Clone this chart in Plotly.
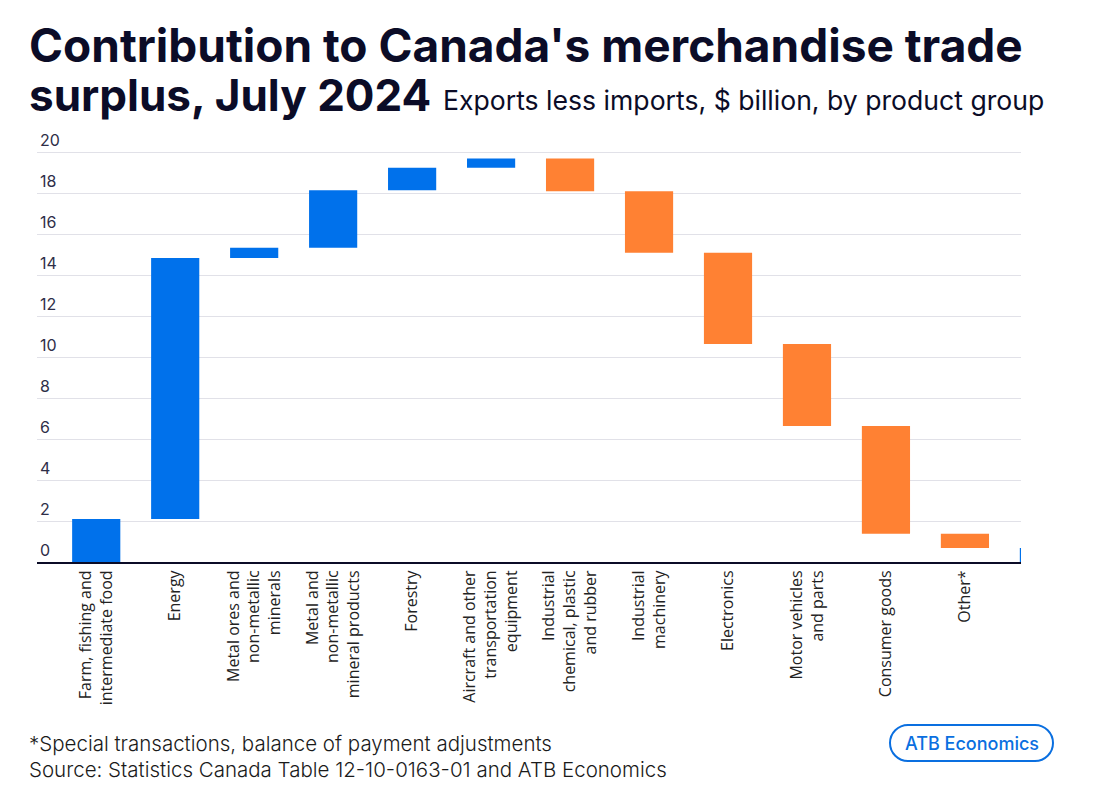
import plotly.graph_objects as go

categories = [
    "Farm, fishing and<br>intermediate food",
    "Energy",
    "Metal ores and<br>non-metallic<br>minerals",
    "Metal and<br>non-metallic<br>mineral products",
    "Forestry",
    "Aircraft and other<br>transportation<br>equipment",
    "Industrial<br>chemical, plastic<br>and rubber",
    "Industrial<br>machinery",
    "Electronics",
    "Motor vehicles<br>and parts",
    "Consumer goods",
    "Other*",
    "Total",
]
contributions = [2.1, 12.73, 0.5, 2.8, 1.1, 0.45, -1.6, -3.0, -4.45, -4.0, -5.25, -0.7, None]
measures = ["relative"] * 12 + ["total"]
y_ticks = [0, 2, 4, 6, 8, 10, 12, 14, 16, 18, 20]

BLUE = "#0071EB"
ORANGE = "#FF8133"
NAVY = "#0B0C27"

OFF = 8  # page body margin
W, H = 1080, 777
YMAX = 22
B = 223
PH = round(YMAX * 20.48)
L, R = 37 - OFF, 67
T = H - B - PH
PW = W - L - R


def px(x):
    return (x - OFF - L) / PW


def py(y):
    return (H - B - (y - OFF)) / PH


fig = go.Figure(
    go.Waterfall(
        x=categories,
        y=[0 if v is None else v for v in contributions],
        measure=measures,
        increasing=dict(marker=dict(color=BLUE)),
        decreasing=dict(marker=dict(color=ORANGE)),
        totals=dict(marker=dict(color=BLUE)),
        connector=dict(visible=False),
        hoverinfo="x+y",
    )
)

fig.update_layout(
    width=W,
    height=H,
    margin=dict(l=L, r=R, t=T, b=B),
    paper_bgcolor="white",
    plot_bgcolor="white",
    showlegend=False,
    waterfallgap=0.39,
    font=dict(family="Inter", color=NAVY),
)

fig.update_xaxes(
    type="category",
    range=[-0.75, 11.71],
    tickangle=-90,
    tickfont=dict(family="Open Sans", size=16, color="#222222"),
    showline=True,
    linecolor=NAVY,
    linewidth=2,
    ticks="",
    showgrid=False,
)
fig.update_yaxes(
    range=[0, YMAX],
    tickvals=y_ticks,
    ticktext=[str(v) for v in y_ticks],
    ticklabelposition="inside top",
    tickfont=dict(family="Inter", size=16, color="#2E2E48"),
    showgrid=True,
    gridcolor="#E1E1E8",
    gridwidth=1,
    zeroline=False,
    showline=False,
    ticks="",
)

ann = []
ann.append(dict(
    text="<b>Contribution to Canada's merchandise trade</b>",
    x=px(27), y=py(45), xref="paper", yref="paper", xanchor="left", yanchor="middle",
    showarrow=False, font=dict(family="Inter", size=46, color=NAVY),
))
ann.append(dict(
    text="<b>surplus, July 2024</b>",
    x=px(27), y=py(95), xref="paper", yref="paper", xanchor="left", yanchor="middle",
    showarrow=False, font=dict(family="Inter", size=44, color=NAVY),
))
ann.append(dict(
    text="Exports less imports, $ billion, by product group",
    x=px(441), y=py(100), xref="paper", yref="paper", xanchor="left", yanchor="middle",
    showarrow=False, font=dict(family="Inter", size=26.6, color=NAVY),
))
ann.append(dict(
    text="*Special transactions, balance of payment adjustments",
    x=px(27), y=py(743), xref="paper", yref="paper", xanchor="left", yanchor="middle",
    showarrow=False, font=dict(family="Inter", size=20.5, color="#1A1A1A", weight=300),
))
ann.append(dict(
    text="Source: Statistics Canada Table 12-10-0163-01 and ATB Economics",
    x=px(27), y=py(769), xref="paper", yref="paper", xanchor="left", yanchor="middle",
    showarrow=False, font=dict(family="Inter", size=20.5, color="#1A1A1A", weight=300),
))
ann.append(dict(
    text="ATB Economics",
    x=px(972), y=py(743), xref="paper", yref="paper", xanchor="center", yanchor="middle",
    showarrow=False, font=dict(family="Inter", size=18, color="#0A6FE0", weight=500),
))
fig.update_layout(annotations=ann)

# rounded button outline
x0, x1, y0, y1, r = 890, 1053, 725, 761, 18
k = r * 0.552
path = (
    f"M {px(x0 + r)},{py(y0)} L {px(x1 - r)},{py(y0)} "
    f"C {px(x1 - r + k)},{py(y0)} {px(x1)},{py(y0 + r - k)} {px(x1)},{py(y0 + r)} "
    f"C {px(x1)},{py(y1 - r + k)} {px(x1 - r + k)},{py(y1)} {px(x1 - r)},{py(y1)} "
    f"L {px(x0 + r)},{py(y1)} "
    f"C {px(x0 + r - k)},{py(y1)} {px(x0)},{py(y1 - r + k)} {px(x0)},{py(y1 - r)} "
    f"C {px(x0)},{py(y0 + r - k)} {px(x0 + r - k)},{py(y0)} {px(x0 + r)},{py(y0)} Z"
)
fig.add_shape(type="path", path=path, xref="paper", yref="paper",
              line=dict(color="#0A6FE0", width=2), fillcolor="rgba(0,0,0,0)")

fig.write_html("out.html")
